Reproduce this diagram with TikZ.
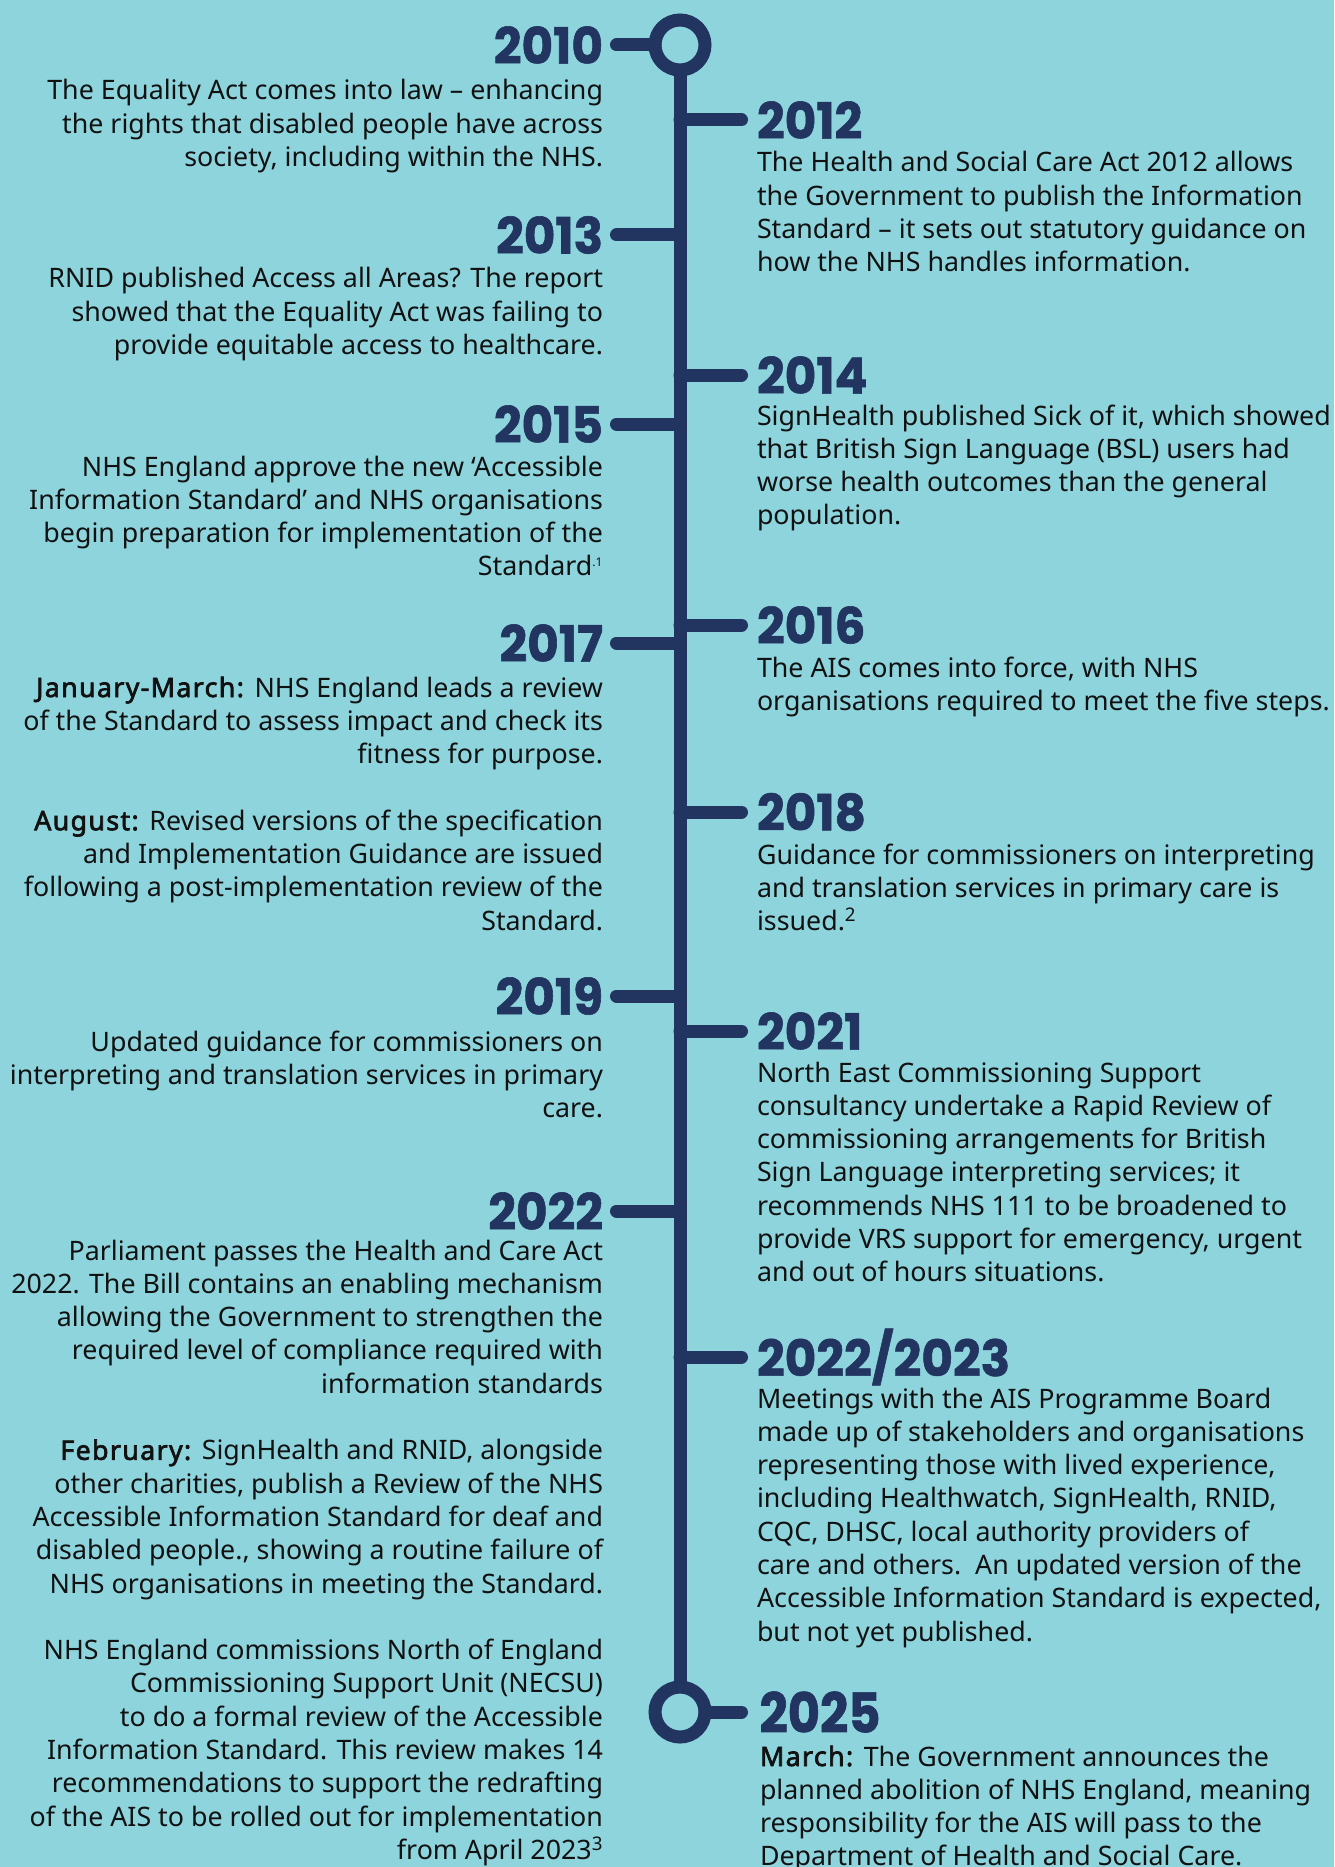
\documentclass[tikz,border=0pt]{standalone}
\usepackage{fontspec}
\setmainfont{Noto Sans}[BoldFont={Noto Sans}, BoldFeatures={FakeBold=2.5, LetterSpace=5}]
\newfontfamily\yearfont{Poppins}[FakeStretch=0.97, BoldFeatures={FakeBold=1.2}]
\newfontfamily\yearfontB{Poppins}[FakeStretch=0.9, BoldFeatures={FakeBold=1.2}]
\definecolor{bg}{HTML}{8ED4DD}
\definecolor{navy}{HTML}{223460}
\definecolor{ink}{HTML}{111111}
\newcommand\leftbody[1]{\begin{tabular}[t]{@{}r@{}}#1\end{tabular}}
\newcommand\rightbody[1]{\begin{tabular}[t]{@{}l@{}}#1\end{tabular}}
\newcommand\tinysup[1]{\textsuperscript{\fontsize{12}{12}\selectfont #1}}
\tikzset{
  spine/.style={draw=navy, line width=13pt},
  branch/.style={draw=navy, line width=13pt, line cap=round},
  ring/.style={circle, draw=navy, line width=13pt, minimum size=50pt, inner sep=0pt, outer sep=0pt},
  yearL/.style={anchor=east, inner xsep=13.5pt, inner ysep=0pt, outer sep=0pt, text=navy,
    font=\yearfont\bfseries\fontsize{50}{50}\selectfont},
  yearR/.style={yearL, anchor=west, inner xsep=15.5pt},
  bodyL/.style={anchor=base east, inner sep=0pt, outer sep=0pt, text=ink,
    font=\fontsize{26.8}{33.3}\selectfont},
  bodyR/.style={bodyL, anchor=base west},
}
\begin{document}
\begin{tikzpicture}[x=1pt,y=-1pt]
\fill[bg] (0,0) rectangle (1334,1867);
\useasboundingbox (0,0) rectangle (1334,1867);

% spine
\node[ring] (c1) at (680,45) {};
\node[ring] (c2) at (680,1712) {};
\draw[spine] (c1.south) -- (c2.north);

% spine anchor points
\coordinate (s2012) at (680,120);
\coordinate (s2013) at (680,235);
\coordinate (s2014) at (680,375);
\coordinate (s2015) at (680,424);
\coordinate (s2016) at (680,625);
\coordinate (s2017) at (680,643);
\coordinate (s2018) at (680,812);
\coordinate (s2019) at (680,996);
\coordinate (s2021) at (680,1031);
\coordinate (s2022) at (680,1211);
\coordinate (s2223) at (680,1357);

% left years
\node[yearL] (y2010) at (616.5,45) {2010};
\node[yearL] (y2013) at (616.5,235) {2013};
\node[yearL] (y2015) at (616.5,424) {2015};
\node[yearL] (y2017) at (616.5,643) {2017};
\node[yearL] (y2019) at (616.5,996) {2019};
\node[yearL] (y2022) at (616.5,1211) {2022};

% right years
\node[yearR] (y2012) at (741.5,120) {2012};
\node[yearR] (y2014) at (741.5,375) {2014};
\node[yearR] (y2016) at (741.5,625) {2016};
\node[yearR] (y2018) at (741.5,812) {2018};
\node[yearR] (y2021) at (741.5,1031) {2021};
\node[yearR] (y2223) at (741.5,1357) {2022/2023};
\node[yearR, font=\yearfontB\bfseries\fontsize{55}{55}\selectfont, inner xsep=18pt] (y2025) at (741.5,1712) {2025};

% branches
\draw[branch] (c1.west) -- (y2010.east);
\draw[branch] (s2013) -- (y2013.east);
\draw[branch] (s2015) -- (y2015.east);
\draw[branch] (s2017) -- (y2017.east);
\draw[branch] (s2019) -- (y2019.east);
\draw[branch] (s2022) -- (y2022.east);
\draw[branch] (s2012) -- (y2012.west);
\draw[branch] (s2014) -- (y2014.west);
\draw[branch] (s2016) -- (y2016.west);
\draw[branch] (s2018) -- (y2018.west);
\draw[branch] (s2021) -- (y2021.west);
\draw[branch] (s2223) -- (y2223.west);
\draw[branch] (c2.east) -- (y2025.west);

% left texts
\node[bodyL] (t2010) at (603,100) {\leftbody{%
The Equality Act comes into law – enhancing\\
the rights that disabled people have across\\
society, including within the NHS.}};

\node[bodyL] (t2013) at (603,288) {\leftbody{%
RNID published Access all Areas? The report\\
showed that the Equality Act was failing to\\
provide equitable access to healthcare.}};

\node[bodyL] (t2015) at (603,476) {\leftbody{%
NHS England approve the new ‘Accessible\\
Information Standard’ and NHS organisations\\
begin preparation for implementation of the\\
Standard\tinysup{.1}}};

\node[bodyL] (t2017) at (603,697) {\leftbody{%
\textbf{January-March:} NHS England leads a review\\
of the Standard to assess impact and check its\\
fitness for purpose.\\
\\
\textbf{August:} Revised versions of the specification\\
and Implementation Guidance are issued\\
following a post-implementation review of the\\
Standard.}};

\node[bodyL] (t2019) at (603,1051) {\leftbody{%
Updated guidance for commissioners on\\
interpreting and translation services in primary\\
care.}};

\node[bodyL] (t2022) at (603,1260) {\leftbody{%
Parliament passes the Health and Care Act\\
2022. The Bill contains an enabling mechanism\\
allowing the Government to strengthen the\\
required level of compliance required with\\
information standards\\
\\
\textbf{February:} SignHealth and RNID, alongside\\
other charities, publish a Review of the NHS\\
Accessible Information Standard for deaf and\\
disabled people., showing a routine failure of\\
NHS organisations in meeting the Standard.\\
\\
NHS England commissions North of England\\
Commissioning Support Unit (NECSU)\\
to do a formal review of the Accessible\\
Information Standard. This review makes 14\\
recommendations to support the redrafting\\
of the AIS to be rolled out for implementation\\
from April 2023\textsuperscript{3}}};

% right texts
\node[bodyR] (t2012) at (757,172) {\rightbody{%
The Health and Social Care Act 2012 allows\\
the Government to publish the Information\\
Standard – it sets out statutory guidance on\\
how the NHS handles information.}};

\node[bodyR] (t2014) at (757,425) {\rightbody{%
SignHealth published Sick of it, which showed\\
that British Sign Language (BSL) users had\\
worse health outcomes than the general\\
population.}};

\node[bodyR] (t2016) at (757,677) {\rightbody{%
The AIS comes into force, with NHS\\
organisations required to meet the five steps.}};

\node[bodyR] (t2018) at (757,864) {\rightbody{%
Guidance for commissioners on interpreting\\
and translation services in primary care is\\
issued.\textsuperscript{2}}};

\node[bodyR] (t2021) at (757,1082) {\rightbody{%
North East Commissioning Support\\
consultancy undertake a Rapid Review of\\
commissioning arrangements for British\\
Sign Language interpreting services; it\\
recommends NHS 111 to be broadened to\\
provide VRS support for emergency, urgent\\
and out of hours situations.}};

\node[bodyR] (t2223) at (757,1408) {\rightbody{%
Meetings with the AIS Programme Board\\
made up of stakeholders and organisations\\
representing those with lived experience,\\
including Healthwatch, SignHealth, RNID,\\
CQC, DHSC, local authority providers of\\
care and others.\ \ An updated version of the\\
Accessible Information Standard is expected,\\
but not yet published.}};

\node[bodyR] (t2025) at (760,1766) {\rightbody{%
\textbf{March:} The Government announces the\\
planned abolition of NHS England, meaning\\
responsibility for the AIS will pass to the\\
Department of Health and Social Care.}};
\end{tikzpicture}
\end{document}
